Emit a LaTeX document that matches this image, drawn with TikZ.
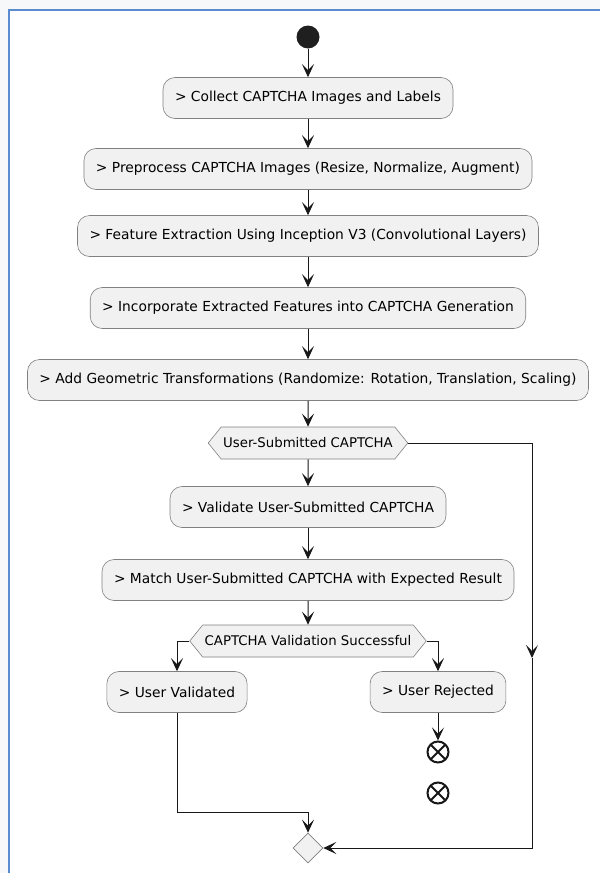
\documentclass[tikz,border=0pt]{standalone}
\usepackage{fontspec}
\setmainfont{DejaVu Sans}
\definecolor{ACTFILL}{HTML}{F1F1F1}
\definecolor{ACTLINE}{HTML}{181818}
\definecolor{FRAMEBLUE}{HTML}{5B8BD0}
\definecolor{PAGEBG}{HTML}{F6F8FA}
\usetikzlibrary{arrows.meta,shapes.geometric,shapes.symbols}

\begin{document}
\begin{tikzpicture}[x=1pt, y=-1pt,
  %% Activity boxes — light grey, rounded
  act/.style={
    draw=black!50, fill=ACTFILL, rectangle, rounded corners=12pt,
    minimum height=41pt, inner xsep=12pt, line width=0.6pt,
    font=\fontsize{13.8}{16}\selectfont
  },
  %% Condition hexagons
  cond/.style={
    draw=black!50, fill=ACTFILL, signal, signal to=east and west,
    signal pointer angle=102, minimum height=32pt, inner xsep=2pt,
    line width=0.6pt, font=\fontsize{13.3}{15}\selectfont
  },
  startdot/.style={circle, fill=black!88, minimum size=23pt, inner sep=0pt},
  stopdot/.style={
    circle, draw=ACTLINE, line width=2pt, minimum size=21pt, inner sep=0pt,
    path picture={
      \draw[line width=2pt]
        (path picture bounding box.north west) -- (path picture bounding box.south east)
        (path picture bounding box.north east) -- (path picture bounding box.south west);
    }
  },
  mergebox/.style={
    diamond, aspect=1, draw=black!50, fill=ACTFILL, line width=0.6pt,
    minimum size=30pt, inner sep=0pt
  },
  flow/.style={-{Stealth[length=13pt,width=12pt,inset=6pt]}, line width=1pt, draw=ACTLINE}
]
\useasboundingbox (0,0) rectangle (600,873);

%% ── Frame ────────────────────────────────────────────────────
\fill[PAGEBG] (0,0) rectangle (600,873);
\fill[white] (9,10) rectangle (600,873);
\draw[FRAMEBLUE, line width=1.6pt] (9,873) -- (9,10) -- (600,10);

%% ── Main column ──────────────────────────────────────────────
\node[startdot] (start) at (308, 37) {};
\node[act] (collect) at (308,  98) {> Collect CAPTCHA Images and Labels};
\node[act] (prep)    at (308, 169) {> Preprocess CAPTCHA Images (Resize, Normalize, Augment)};
\node[act] (feat)    at (308, 236) {> Feature Extraction Using Inception V3 (Convolutional Layers)};
\node[act] (incorp)  at (308, 308) {> Incorporate Extracted Features into CAPTCHA Generation};
\node[act] (geom)    at (308, 380) {> Add Geometric Transformations (Randomize: Rotation, Translation, Scaling)};
\node[cond] (subm)   at (308, 443) {User-Submitted CAPTCHA};
\node[act] (valid)   at (308, 507) {> Validate User-Submitted CAPTCHA};
\node[act] (match)   at (308, 580) {> Match User-Submitted CAPTCHA with Expected Result};
\node[cond] (ok)     at (308, 641) {CAPTCHA Validation Successful};

\draw[flow] (start)   -- (collect);
\draw[flow] (collect) -- (prep);
\draw[flow] (prep)    -- (feat);
\draw[flow] (feat)    -- (incorp);
\draw[flow] (incorp)  -- (geom);
\draw[flow] (geom)    -- (subm);
\draw[flow] (subm)    -- (valid);
\draw[flow] (valid)   -- (match);
\draw[flow] (match)   -- (ok);

%% ── Branches ─────────────────────────────────────────────────
\node[act] (uval) at (177, 692) {> User Validated};
\node[act] (urej) at (438, 692) {> User Rejected};
\node[stopdot] (stopa) at (438, 752) {};
\node[stopdot] (stopb) at (438, 793) {};
\node[mergebox] (merge) at (308, 848) {};

\draw[flow] (ok.west) -| (uval);
\draw[flow] (ok.east) -| (urej);
\draw[flow] (urej) -- (stopa);

\coordinate (lowleft) at (177, 812);
\draw[flow] (uval) -- (lowleft) -| (merge);

%% ── Bypass on the right ──────────────────────────────────────
\coordinate (rmid) at (532, 658);
\draw[flow] (rmid) |- (merge);
\draw[flow] (subm.east) -| (rmid);

\end{tikzpicture}
\end{document}
